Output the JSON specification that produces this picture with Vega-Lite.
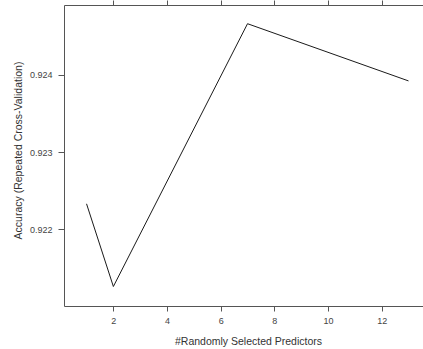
{
  "$schema": "https://vega.github.io/schema/vega-lite/v6.json",
  "width": 359,
  "height": 301,
  "autosize": "none",
  "padding": {"left": 64, "top": 5, "right": 0, "bottom": 43},
  "background": "white",
  "config": {
    "view": {"stroke": "transparent"},
    "font": "Liberation Sans",
    "axis": {
      "grid": false,
      "domainColor": "#555555",
      "tickColor": "#555555",
      "labelColor": "#444444",
      "titleColor": "#333333",
      "labelFont": "Liberation Sans",
      "titleFont": "Liberation Sans",
      "labelFontSize": 9,
      "titleFontSize": 10.5,
      "titleFontWeight": "normal",
      "domainWidth": 1,
      "tickWidth": 1
    }
  },
  "data": {
    "values": [
      {"mtry": 1, "accuracy": 0.92233},
      {"mtry": 2, "accuracy": 0.92126},
      {"mtry": 7, "accuracy": 0.92466},
      {"mtry": 13, "accuracy": 0.92392}
    ]
  },
  "layer": [
    {
      "mark": {"type": "line", "color": "#1a1a1a", "strokeWidth": 1, "clip": true},
      "encoding": {
        "x": {
          "field": "mtry",
          "type": "quantitative",
          "scale": {"domain": [0.16, 13.54], "nice": false, "zero": false},
          "axis": {
            "orient": "bottom",
            "title": "#Randomly Selected Predictors",
            "values": [2, 4, 6, 8, 10, 12],
            "tickSize": 5,
            "labelPadding": 5,
            "titleX": 184,
            "titleY": 38,
            "titleBaseline": "alphabetic",
            "titleAnchor": null
          }
        },
        "y": {
          "field": "accuracy",
          "type": "quantitative",
          "scale": {"domain": [0.921008, 0.924902], "nice": false, "zero": false},
          "axis": {
            "orient": "left",
            "title": "Accuracy (Repeated Cross-Validation)",
            "values": [0.922, 0.923, 0.924],
            "format": ".3f",
            "tickSize": 6,
            "labelPadding": 6,
            "titleX": -43,
            "titleY": 145,
            "titleAngle": 270,
            "titleBaseline": "alphabetic",
            "titleAlign": "center"
          }
        }
      }
    },
    {
      "mark": {"type": "rule", "opacity": 0},
      "encoding": {
        "x": {
          "field": "mtry",
          "type": "quantitative",
          "scale": {"domain": [0.16, 13.54], "nice": false, "zero": false},
          "axis": {
            "orient": "top",
            "title": null,
            "values": [2, 4, 6, 8, 10, 12],
            "labels": false,
            "ticks": true,
            "domain": true,
            "tickSize": 5,
            "offset": 0,
            "zindex": 1,
            "tickColor": "#555555",
            "domainColor": "#555555"
          }
        }
      }
    }
  ],
  "resolve": {"scale": {"x": "independent"}, "axis": {"x": "independent"}}
}
